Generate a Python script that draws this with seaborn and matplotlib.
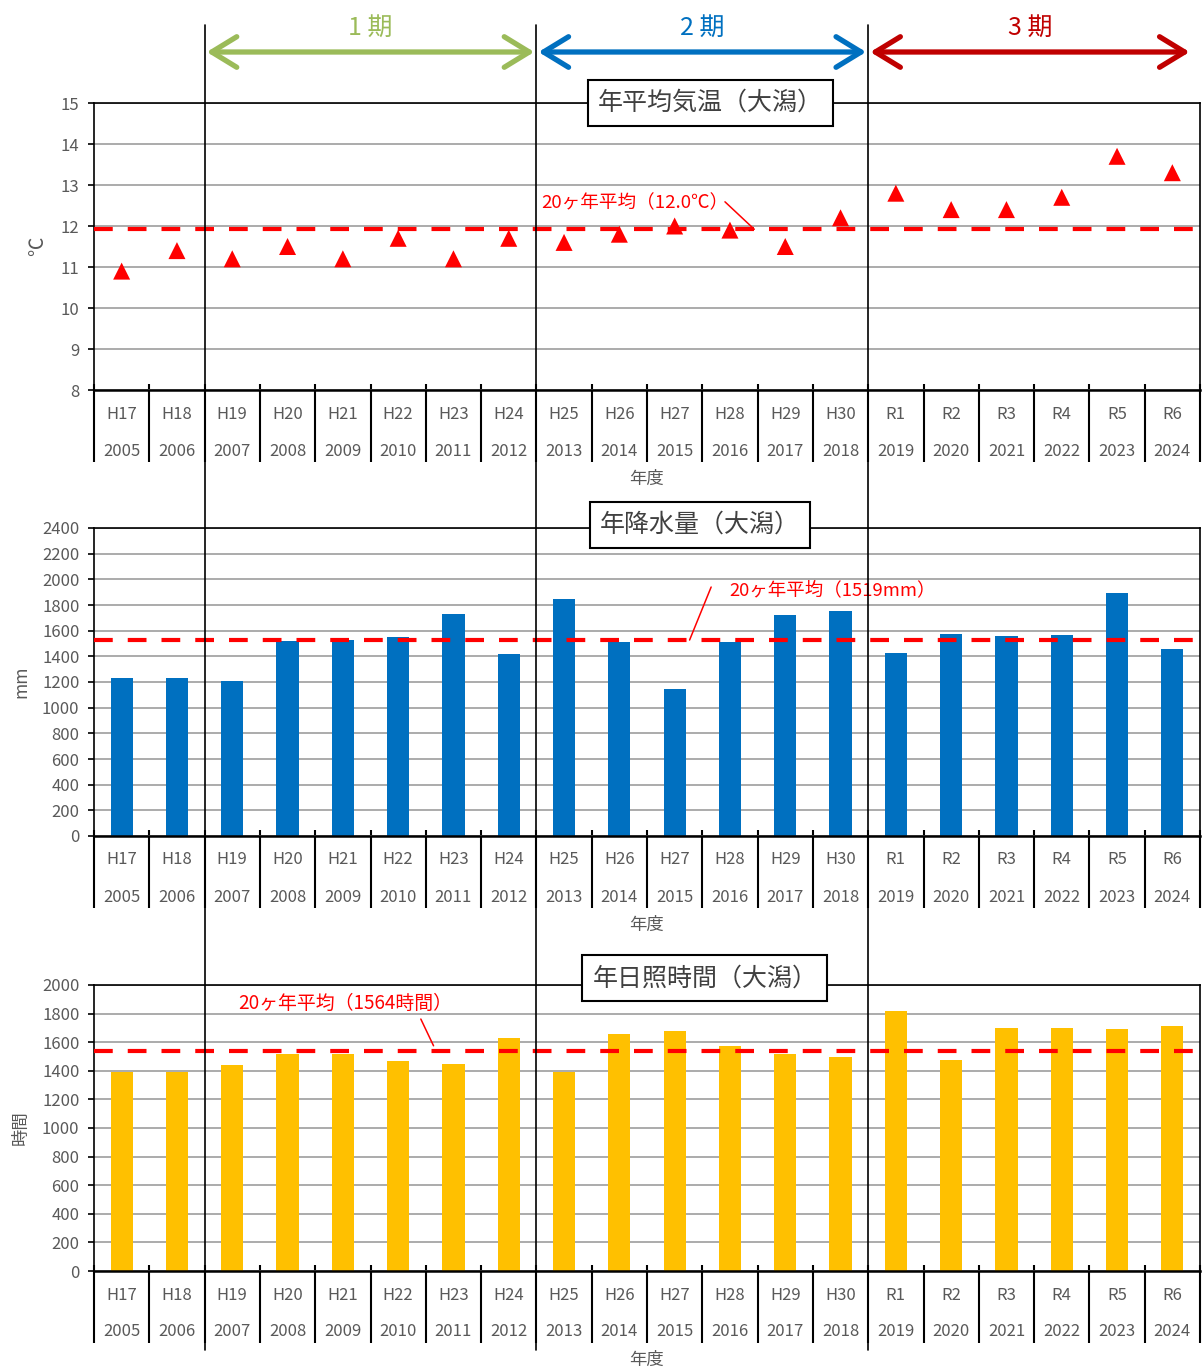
import numpy as np
import matplotlib
matplotlib.use('Agg')
import matplotlib.pyplot as plt
import seaborn as sns
from matplotlib import transforms
from matplotlib.lines import Line2D
from matplotlib.patches import FancyArrowPatch

# ---------------- data ----------------
era_labels = ['H17', 'H18', 'H19', 'H20', 'H21', 'H22', 'H23', 'H24', 'H25', 'H26',
              'H27', 'H28', 'H29', 'H30', 'R1', 'R2', 'R3', 'R4', 'R5', 'R6']
year_labels = ['2005', '2006', '2007', '2008', '2009', '2010', '2011', '2012', '2013', '2014',
               '2015', '2016', '2017', '2018', '2019', '2020', '2021', '2022', '2023', '2024']
temperature = [10.9, 11.4, 11.2, 11.5, 11.2, 11.7, 11.2, 11.7, 11.6, 11.8,
               12.0, 11.9, 11.5, 12.2, 12.8, 12.4, 12.4, 12.7, 13.7, 13.3]
precipitation = [1230, 1230, 1205, 1520, 1525, 1550, 1730, 1415, 1850, 1510,
                 1145, 1515, 1720, 1755, 1425, 1575, 1560, 1565, 1890, 1455]
sunshine = [1390, 1390, 1440, 1515, 1520, 1470, 1450, 1630, 1390, 1660,
            1675, 1575, 1515, 1500, 1815, 1475, 1700, 1700, 1695, 1710]
temp_avg = 11.93
precip_avg = 1525
sunshine_avg = 1540
temp_avg_label = '20ヶ年平均（12.0℃）'
precip_avg_label = '20ヶ年平均（1519mm）'
sunshine_avg_label = '20ヶ年平均（1564時間）'
titles = ['年平均気温（大潟）', '年降水量（大潟）', '年日照時間（大潟）']
ylabels = ['℃', 'mm', '時間']
period_labels = ['1 期', '2 期', '3 期']
period_first_index = [2, 8, 14]
period_colors = ['#9BBB59', '#0070C0', '#C00000']

# ---------------- style ----------------
sns.set_style('white')
plt.rcParams['font.family'] = ['Noto Sans CJK JP', 'DejaVu Sans']
GRAY = '#595959'

W, H = 1203, 1372
fig = plt.figure(figsize=(W / 100, H / 100), dpi=100)


def rect(left, top, right, bottom):
    return [left / W, 1 - bottom / H, (right - left) / W, (bottom - top) / H]


ax1 = fig.add_axes(rect(94, 103, 1200, 390))
ax2 = fig.add_axes(rect(94, 528, 1200, 836))
ax3 = fig.add_axes(rect(94, 985, 1200, 1271))

n = len(era_labels)

# marks
sns.scatterplot(x=era_labels, y=temperature, marker='^', s=150, color='#FF0000',
                edgecolor='none', ax=ax1, zorder=4, legend=False)
sns.barplot(x=era_labels, y=precipitation, color='#0070C0', saturation=1, width=0.4,
            ax=ax2, zorder=2, linewidth=0)
sns.barplot(x=era_labels, y=sunshine, color='#FFC000', saturation=1, width=0.4,
            ax=ax3, zorder=2, linewidth=0)


def style(ax, ylim, step, ylabel, ylabel_x, ylabel_size, title, title_x, title_y):
    ax.set_xlim(-0.5, n - 0.5)
    ax.set_ylim(*ylim)
    ax.set_yticks(np.arange(ylim[0], ylim[1] + step / 2, step))
    ax.yaxis.grid(True, color='#ABABAB', lw=1.4)
    ax.xaxis.grid(False)
    ax.set_axisbelow(True)
    for s in ['top', 'right', 'left']:
        ax.spines[s].set_visible(True)
        ax.spines[s].set_color('black')
        ax.spines[s].set_linewidth(1.2)
    ax.spines['bottom'].set_visible(True)
    ax.spines['bottom'].set_color('black')
    ax.spines['bottom'].set_linewidth(1.8)
    bounds = np.arange(-0.5, n, 1)
    ax.set_xticks(bounds)
    ax.set_xticklabels([])
    ax.set_xticks(bounds, minor=True)
    ax.xaxis.remove_overlapping_locs = False
    ax.tick_params(axis='x', which='major', direction='in', length=4, width=1.5,
                   color='black', bottom=True)
    ax.tick_params(axis='x', which='minor', direction='out', length=52, width=1.5,
                   color='black', bottom=True)
    ax.tick_params(axis='y', direction='out', length=4.5, width=1.2, color='black',
                   labelsize=12, labelcolor=GRAY, pad=6, left=True)
    for i, (e, y) in enumerate(zip(era_labels, year_labels)):
        ax.annotate(e, xy=(i, 0), xycoords=('data', 'axes fraction'), xytext=(0, -24),
                    textcoords='offset pixels', ha='center', va='center',
                    fontsize=12, color=GRAY)
        ax.annotate(y, xy=(i, 0), xycoords=('data', 'axes fraction'), xytext=(0, -61),
                    textcoords='offset pixels', ha='center', va='center',
                    fontsize=12, color=GRAY)
    ax.annotate('年度', xy=(0.5, 0), xycoords='axes fraction', xytext=(0, -89),
                textcoords='offset pixels', ha='center', va='center',
                fontsize=12.5, color=GRAY)
    ax.set_xlabel('')
    ax.set_ylabel(ylabel, fontsize=ylabel_size, color=GRAY)
    ax.yaxis.set_label_coords(ylabel_x, 0.5)
    ax.text(title_x, title_y, title, transform=ax.transAxes, ha='center', va='center',
            fontsize=18, color='#404040', zorder=10,
            bbox=dict(boxstyle='square,pad=0.4', fc='white', ec='black', lw=1.5))


style(ax1, (8, 15), 1, ylabels[0], -0.0416, 14, titles[0], 0.557, 1.0)
style(ax2, (0, 2400), 200, ylabels[1], -0.0579, 12.5, titles[1], 0.548, 1.011)
style(ax3, (0, 2000), 200, ylabels[2], -0.0579, 12.5, titles[2], 0.5524, 1.024)

# average lines
for ax, avg in [(ax1, temp_avg), (ax2, precip_avg), (ax3, sunshine_avg)]:
    ax.axhline(avg, color='#FF0000', lw=3, dashes=(4.5, 3.6), zorder=3)

# average labels with leaders
ax1.text(7.58, 12.56, temp_avg_label, ha='left', va='center', color='#FF0000', fontsize=13.4, zorder=5)
ax1.plot([10.91, 11.44], [12.59, 11.92], color='#FF0000', lw=1.1, zorder=5)
ax2.text(10.98, 1917, precip_avg_label, ha='left', va='center', color='#FF0000', fontsize=13.3, zorder=5)
ax2.plot([10.66, 10.27], [1940, 1527], color='#FF0000', lw=1.1, zorder=5)
ax3.text(2.10, 1874, sunshine_avg_label, ha='left', va='center', color='#FF0000', fontsize=13.6, zorder=5)
ax3.plot([5.41, 5.64], [1762, 1575], color='#FF0000', lw=1.1, zorder=5)

# period separators and arrows
trans = transforms.blended_transform_factory(ax1.transData, fig.transFigure)
for idx in period_first_index:
    b = idx - 0.5
    fig.add_artist(Line2D([b, b], [1 - 25 / H, 1 - 1350 / H], transform=trans,
                          color='black', lw=1.2, zorder=20))

arrow_y = 1 - 52 / H
ends = [period_first_index[1] - 0.5, period_first_index[2] - 0.5, 19.35]
for k, (lab, col) in enumerate(zip(period_labels, period_colors)):
    x0 = period_first_index[k] - 0.5
    x1 = ends[k]
    arr = FancyArrowPatch(posA=(x0, arrow_y), posB=(x1, arrow_y), transform=trans,
                          arrowstyle='<->,head_length=0.9,head_width=0.55',
                          mutation_scale=20, lw=3.8, color=col,
                          shrinkA=1.5, shrinkB=1.5, zorder=21)
    fig.add_artist(arr)
    fig.text((x0 + x1) / 2, 1 - 28 / H, lab, transform=trans, ha='center',
             va='center', fontsize=18, color=col)

fig.savefig('out.png', dpi=100)
